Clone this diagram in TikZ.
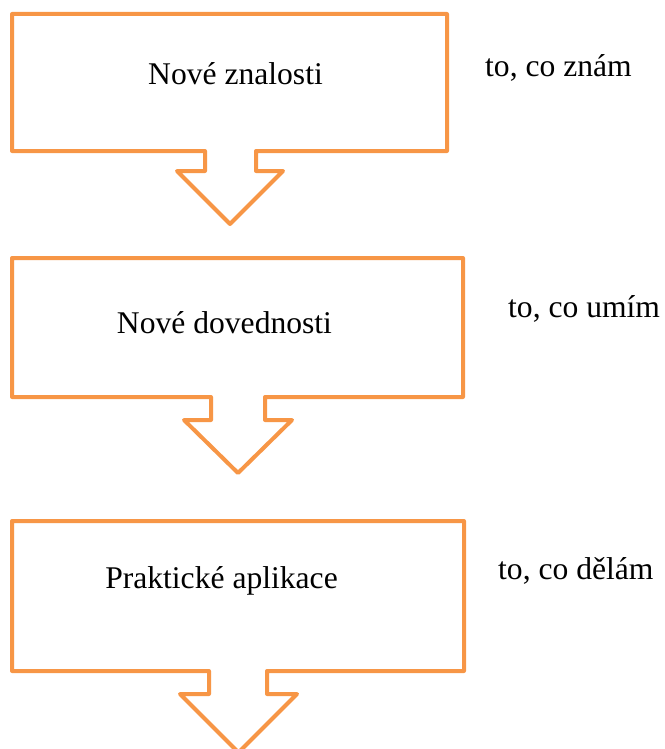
\documentclass[tikz,border=0pt]{standalone}
\usepackage{fontspec}
\setmainfont{Liberation Serif}
\definecolor{calloutorange}{HTML}{F79646}
\begin{document}
\begin{tikzpicture}[x=1pt,y=-1pt,
  callout/.style={draw=calloutorange,line width=4pt,line join=round,fill=white},
  boxtext/.style={anchor=base,inner sep=0pt,font=\fontsize{31.6}{38}\selectfont},
  sidetext/.style={anchor=base west,inner sep=0pt,font=\fontsize{31.6}{38}\selectfont}]
\useasboundingbox (0,0) rectangle (664,749);
\clip (0,0) rectangle (664,749);
% first callout with its downward arrow
\draw[callout] (12,14) -- (447,14) -- (447,151) -- (256,151) -- (256,171) -- (283,171)
  -- (230,224) -- (177,171) -- (205,171) -- (205,151) -- (12,151) -- cycle;
% second callout
\draw[callout] (12,258) -- (463,258) -- (463,397) -- (265,397) -- (265,420) -- (292,420)
  -- (238,473) -- (184,420) -- (211,420) -- (211,397) -- (12,397) -- cycle;
% third callout, its arrow running off the bottom edge
\draw[callout] (12,521) -- (464,521) -- (464,671) -- (267,671) -- (267,694) -- (297,694)
  -- (238.5,752.5) -- (180,694) -- (209,694) -- (209,671) -- (12,671) -- cycle;
% texts inside the callouts
\node[boxtext] (t1) at (235.5,85) {Nové znalosti};
\node[boxtext] (t2) at (224.5,333) {Nové dovednosti};
\node[boxtext] (t3) at (221.5,588) {Praktické aplikace};
% texts beside the callouts
\node[sidetext] (s1) at (485,77) {to, co znám};
\node[sidetext] (s2) at (508,317) {to, co umím};
\node[sidetext] (s3) at (498,579) {to, co dělám};
\end{tikzpicture}
\end{document}
